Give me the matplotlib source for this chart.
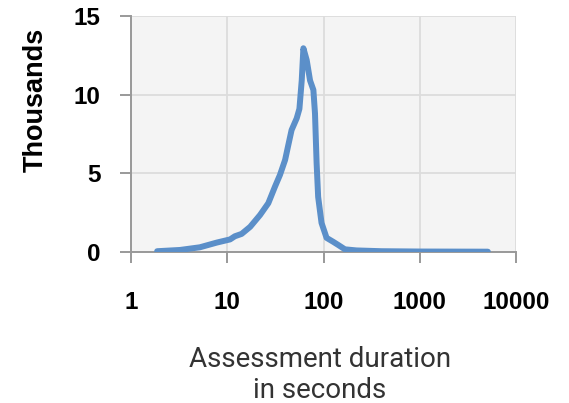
import matplotlib
matplotlib.use("Agg")
import matplotlib.pyplot as plt
from matplotlib.ticker import FixedLocator, FixedFormatter

# duration in seconds, count in thousands
duration = [1.87, 3.23, 5.2, 7.8, 10.7, 12.0, 14.1, 17.3, 21.9, 26.7, 31.3,
            35.3, 39.9, 43.1, 46.6, 52.7, 56.2, 59.4, 61.8, 66.9, 72.5, 78.5,
            81.6, 84.8, 88, 95.4, 107.6, 126, 142, 167, 220, 400, 1000, 5100]
thousands = [0.05, 0.13, 0.3, 0.6, 0.8, 1.0, 1.15, 1.6, 2.35, 3.1, 4.15,
             4.9, 5.85, 6.8, 7.75, 8.5, 9.1, 10.9, 12.95, 12.2, 10.9, 10.3,
             8.8, 5.65, 3.5, 1.85, 0.9, 0.65, 0.45, 0.17, 0.1, 0.05, 0.03, 0.02]

x_ticks = [1, 10, 100, 1000, 10000]
x_labels = ["1", "10", "100", "1000", "10000"]
y_ticks = [0, 5, 10, 15]

fig = plt.figure(figsize=(5.69, 4.03), dpi=100)
ax = fig.add_axes([131 / 569, 1 - 252 / 403, (516 - 131) / 569, (252 - 16) / 403])
ax.set_facecolor("#f4f4f4")

ax.plot(duration, thousands, color="#5b8fc9", linewidth=4.3,
        solid_capstyle="round", solid_joinstyle="round", zorder=3)

ax.set_xscale("log")
ax.set_xlim(1, 10000)
ax.set_ylim(0, 15)
ax.xaxis.set_major_locator(FixedLocator(x_ticks))
ax.xaxis.set_major_formatter(FixedFormatter(x_labels))
ax.xaxis.set_minor_locator(FixedLocator([]))
ax.set_yticks(y_ticks)

ax.grid(True, color="#dcdcdc", linewidth=1.3, zorder=0)
ax.set_axisbelow(True)

for s in ["top", "right"]:
    ax.spines[s].set_visible(False)
for s in ["left", "bottom"]:
    ax.spines[s].set_color("#999999")
    ax.spines[s].set_linewidth(1.4)

ax.tick_params(axis="both", which="major", direction="out", color="#999999",
               width=1.4, length=8)
ax.tick_params(axis="x", pad=20)
ax.tick_params(axis="y", pad=14)
for lbl in ax.get_xticklabels() + ax.get_yticklabels():
    lbl.set_fontfamily("Liberation Sans")
    lbl.set_fontweight("bold")
    lbl.set_fontsize(17.5)

fig.text(36 / 569, 1 - 100 / 403, "Thousands", rotation=90, ha="center",
         va="center", fontsize=19.5, fontweight="bold", family="Liberation Sans")
fig.text(320 / 569, 1 - 375 / 403, "Assessment duration\nin seconds",
         ha="center", va="center", fontsize=20, color="#333333",
         family="Roboto", linespacing=1.15)

fig.savefig("out.png", dpi=100)
